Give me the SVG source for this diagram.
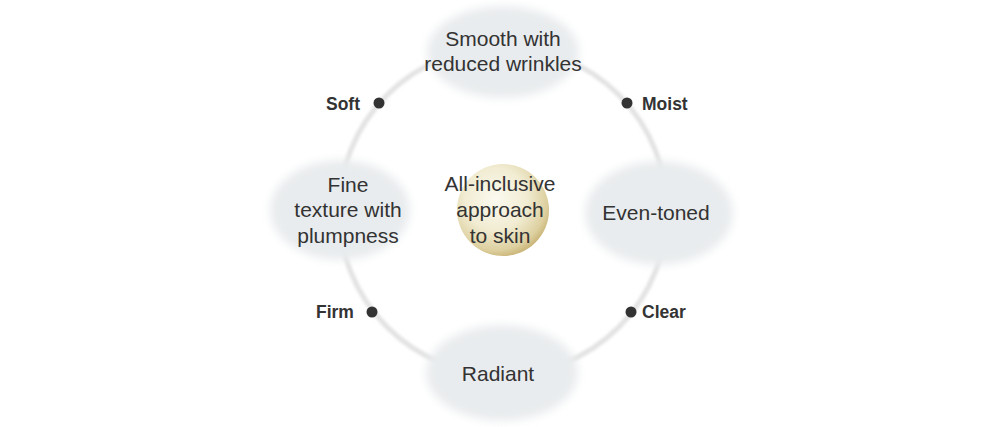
<svg xmlns="http://www.w3.org/2000/svg" width="1000" height="427" viewBox="0 0 1000 427">
<defs>
<filter id="blur" x="-20%" y="-20%" width="140%" height="140%"><feGaussianBlur stdDeviation="4"/></filter>
<filter id="ringblur" x="-10%" y="-10%" width="120%" height="120%"><feGaussianBlur stdDeviation="1.5"/></filter>
<radialGradient id="sphere" cx="0.42" cy="0.38" r="0.68">
<stop offset="0" stop-color="#fbfaf0"/>
<stop offset="0.5" stop-color="#f1ecd2"/>
<stop offset="0.82" stop-color="#ddd0a0"/>
<stop offset="1" stop-color="#c2a865"/>
</radialGradient>
<style>
.bub{fill:#e9ecee;filter:url(#blur)}
.t{font-family:"Liberation Sans",Arial,sans-serif;font-size:21px;fill:#333;text-anchor:middle}
.lab{font-family:"Liberation Sans",Arial,sans-serif;font-size:17.5px;font-weight:bold;fill:#333}
.dot{fill:#333}
</style>
</defs>
<rect width="1000" height="427" fill="#fff"/>
<g id="connectors">
<circle cx="503" cy="211" r="164" fill="none" stroke="#e2e2e2" stroke-width="5" filter="url(#ringblur)"/>
<circle cx="379" cy="103" r="5.5" class="dot"/>
<circle cx="627" cy="103" r="5.5" class="dot"/>
<circle cx="372" cy="312" r="5.5" class="dot"/>
<circle cx="631" cy="312" r="5.5" class="dot"/>
<text x="326" y="110" class="lab">Soft</text>
<text x="642" y="110" class="lab">Moist</text>
<text x="316" y="318" class="lab">Firm</text>
<text x="642" y="318" class="lab">Clear</text>
</g>
<g id="top">
<ellipse cx="503" cy="52" rx="76" ry="46" class="bub"/>
<text x="503" y="46" class="t">Smooth with</text>
<text x="503" y="71" class="t">reduced wrinkles</text>
</g>
<g id="left">
<ellipse cx="340" cy="210" rx="70" ry="50" class="bub"/>
<text x="348" y="192" class="t">Fine</text>
<text x="348" y="217" class="t">texture with</text>
<text x="348" y="243" class="t">plumpness</text>
</g>
<g id="right">
<ellipse cx="659" cy="213" rx="74" ry="52" class="bub"/>
<text x="656" y="220" class="t">Even-toned</text>
</g>
<g id="bottom">
<ellipse cx="502" cy="373" rx="76" ry="48" class="bub"/>
<text x="498" y="381" class="t">Radiant</text>
</g>
<g id="center">
<circle cx="503" cy="210" r="46" fill="url(#sphere)"/>
<text x="500" y="191" class="t">All-inclusive</text>
<text x="500" y="217" class="t">approach</text>
<text x="500" y="243" class="t">to skin</text>
</g>
</svg>
